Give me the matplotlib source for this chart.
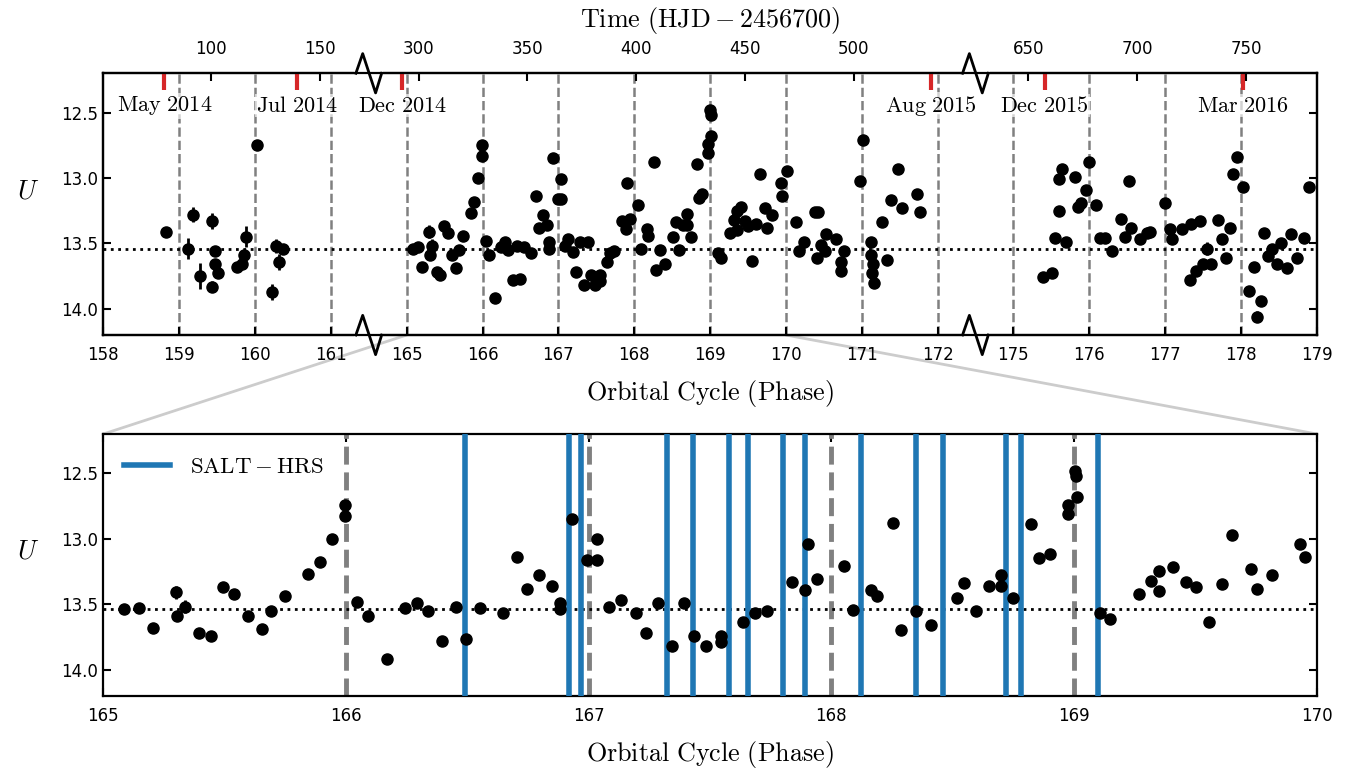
import numpy as np
import matplotlib
matplotlib.use("Agg")
import matplotlib.pyplot as plt
from matplotlib.patches import ConnectionPatch

plt.rcParams["mathtext.fontset"] = "cm"
plt.rcParams["font.family"] = "DejaVu Sans"
plt.rcParams["axes.unicode_minus"] = True

# ---------------------------------------------------------------- data
# Season 1 (May - Jul 2014)
phase_s1 = [158.823, 159.122, 159.179, 159.276, 159.434, 159.434, 159.474, 159.474,
            159.513, 159.768, 159.826, 159.856, 159.878, 160.032, 160.230, 160.278,
            160.318, 160.375]
u_s1 = [13.41, 13.54, 13.28, 13.75, 13.33, 13.83, 13.56, 13.66,
        13.73, 13.68, 13.66, 13.59, 13.45, 12.75, 13.87, 13.52,
        13.64, 13.54]
err_s1 = [0.015, 0.08, 0.06, 0.10, 0.06, 0.04, 0.03, 0.03,
          0.03, 0.03, 0.03, 0.03, 0.08, 0.015, 0.06, 0.05,
          0.06, 0.03]

# Season 2 (Dec 2014 - Aug 2015)
phase_s2 = [165.087, 165.146, 165.203, 165.300, 165.302, 165.338, 165.396, 165.444,
            165.492, 165.540, 165.597, 165.653, 165.690, 165.747, 165.843, 165.891,
            165.942, 165.997, 165.997, 166.045, 166.092, 166.169, 166.245, 166.293,
            166.338, 166.397, 166.455, 166.495, 166.551, 166.645, 166.704, 166.745,
            166.796, 166.847, 166.883, 166.883, 166.932, 166.991, 167.035, 167.035,
            167.083, 167.133, 167.193, 167.235, 167.285, 167.343, 167.391, 167.435,
            167.485, 167.544, 167.544, 167.635, 167.687, 167.736, 167.837, 167.892,
            167.903, 167.940, 168.053, 168.089, 168.164, 168.188, 168.255, 168.288,
            168.347, 168.410, 168.517, 168.547, 168.596, 168.650, 168.698, 168.698,
            168.747, 168.824, 168.854, 168.900, 168.976, 168.976, 169.003, 169.007,
            169.012, 169.106, 169.150, 169.266, 169.319, 169.351, 169.351, 169.407,
            169.462, 169.502, 169.555, 169.608, 169.653, 169.729, 169.753, 169.816,
            169.930, 169.953, 170.016, 170.134, 170.174, 170.235, 170.389, 170.411,
            170.420, 170.464, 170.521, 170.534, 170.666, 170.732, 170.732, 170.771,
            170.983, 171.018, 171.124, 171.128, 171.132, 171.150, 171.158, 171.269,
            171.335, 171.388, 171.484, 171.537, 171.731, 171.765]
u_s2 = [13.54, 13.53, 13.68, 13.41, 13.59, 13.52, 13.72, 13.74,
        13.37, 13.42, 13.59, 13.69, 13.55, 13.44, 13.27, 13.18,
        13.00, 12.745, 12.83, 13.48, 13.59, 13.92, 13.53, 13.49,
        13.55, 13.78, 13.52, 13.77, 13.53, 13.57, 13.14, 13.385,
        13.28, 13.36, 13.49, 13.54, 12.85, 13.16, 13.005, 13.16,
        13.52, 13.47, 13.565, 13.72, 13.49, 13.82, 13.49, 13.745,
        13.82, 13.74, 13.79, 13.64, 13.57, 13.556, 13.33, 13.39,
        13.04, 13.31, 13.21, 13.545, 13.39, 13.44, 12.88, 13.70,
        13.55, 13.66, 13.45, 13.34, 13.55, 13.36, 13.276, 13.36,
        13.454, 12.89, 13.15, 13.12, 12.74, 12.81, 12.48, 12.52,
        12.68, 13.57, 13.61, 13.42, 13.32, 13.25, 13.40, 13.22,
        13.33, 13.37, 13.635, 13.35, 12.97, 13.23, 13.385, 13.28,
        13.04, 13.14, 12.945, 13.34, 13.56, 13.49, 13.26, 13.61,
        13.26, 13.51, 13.56, 13.43, 13.47, 13.645, 13.71, 13.56,
        13.02, 12.71, 13.49, 13.59, 13.73, 13.66, 13.80, 13.34,
        13.63, 13.17, 12.93, 13.23, 13.12, 13.26]
err_s2 = [0.015] * len(phase_s2)
for i, e in ((3, 0.05), (5, 0.05), (40, 0.04), (46, 0.04), (78, 0.03)):
    err_s2[i] = e

# Season 3 (Dec 2015 - Mar 2016)
phase_s3 = [175.396, 175.515, 175.550, 175.603, 175.607, 175.646, 175.699, 175.814,
            175.858, 175.894, 175.955, 176.003, 176.091, 176.144, 176.210, 176.298,
            176.417, 176.473, 176.526, 176.552, 176.671, 176.759, 176.803, 177.001,
            177.067, 177.098, 177.222, 177.331, 177.345, 177.411, 177.464, 177.499,
            177.552, 177.609, 177.697, 177.750, 177.807, 177.851, 177.896, 177.948,
            178.022, 178.102, 178.167, 178.212, 178.265, 178.303, 178.356, 178.405,
            178.471, 178.523, 178.611, 178.665, 178.735, 178.831, 178.897]
u_s3 = [13.76, 13.73, 13.46, 13.255, 13.01, 12.93, 13.49, 12.996,
        13.225, 13.19, 13.09, 12.88, 13.205, 13.46, 13.46, 13.56,
        13.31, 13.45, 13.02, 13.38, 13.47, 13.42, 13.41, 13.195,
        13.39, 13.47, 13.39, 13.78, 13.35, 13.71, 13.33, 13.66,
        13.54, 13.66, 13.32, 13.47, 13.61, 13.38, 12.97, 12.84,
        13.07, 13.86, 13.68, 14.06, 13.94, 13.42, 13.60, 13.54,
        13.66, 13.50, 13.69, 13.43, 13.61, 13.46, 13.07]
err_s3 = [0.015] * len(phase_s3)
err_s3[32] = 0.05
err_s3[43] = 0.04

# SALT-HRS spectroscopic epochs (orbital phase)
salt_hrs_phase = [166.489, 166.918, 166.970, 167.323, 167.430, 167.578, 167.658,
                  167.801, 167.893, 168.122, 168.350, 168.460, 168.721, 168.782,
                  169.100]

# calendar markers (HJD - 2456700)
month_labels = ["May 2014", "Jul 2014", "Dec 2014", "Aug 2015", "Dec 2015", "Mar 2016"]
month_hjd = [78.5, 139.5, 292.5, 535.5, 657.5, 748.5]

# top-axis time ticks (HJD - 2456700)
hjd_ticks = [100, 150, 300, 350, 400, 450, 500, 650, 700, 750]

U_MEAN = 13.54
PERIOD = 34.86          # days
EPOCH = -5457.4         # HJD - 2456700 of cycle zero

# broken phase axis: (first phase, last phase, cycles removed before segment)
SEGMENTS = [(158.0, 161.5, 0), (164.5, 172.5, 3), (174.5, 179.0, 5)]


def to_axis(phase):
    phase = np.atleast_1d(np.asarray(phase, float))
    out = np.full(phase.shape, np.nan)
    for lo, hi, shift in SEGMENTS:
        m = (phase >= lo) & (phase <= hi)
        out[m] = phase[m] - shift
    return out


def hjd_to_phase(hjd):
    return (np.asarray(hjd, float) - EPOCH) / PERIOD


def rm(s):
    """Roman Computer Modern text via mathtext."""
    return r"$\mathrm{" + s.replace(" ", r"\ ") + "}$"


# ---------------------------------------------------------------- figure
fig = plt.figure(figsize=(13.51, 7.68), dpi=100)
ax1 = fig.add_axes([0.0765, 0.5638, 0.8981, 0.3408])
ax2 = fig.add_axes([0.0765, 0.0941, 0.8981, 0.3408])

GREY = "#808080"
MS = 8
LABEL_FS = 18.8
seasons = [(phase_s1, u_s1, err_s1), (phase_s2, u_s2, err_s2), (phase_s3, u_s3, err_s3)]

xlo = to_axis(SEGMENTS[0][0])[0]
xhi = to_axis(SEGMENTS[-1][1])[0]

# ---- upper panel: full light curve on broken axis
for lo, hi, shift in SEGMENTS:
    for c in range(int(np.ceil(lo)), int(np.floor(hi)) + 1):
        xc = c - shift
        if xlo < xc < xhi:
            ax1.axvline(xc, color=GREY, ls="--", lw=1.8, zorder=1)

ax1.axhline(U_MEAN, color="k", ls=":", lw=2, zorder=2)
for ph, u, e in seasons:
    ax1.errorbar(to_axis(ph), u, yerr=e, fmt="o", color="k", ms=MS,
                 elinewidth=2, capsize=0, zorder=5)

ticks_ph = []
for lo, hi, shift in SEGMENTS:
    ticks_ph += list(range(int(np.ceil(lo)), int(np.floor(hi)) + 1))
ax1.set_xticks(to_axis(ticks_ph))
ax1.set_xticklabels([str(t) for t in ticks_ph])
ax1.set_xlim(xlo, xhi)
ax1.set_ylim(14.2, 12.2)
ax1.set_yticks([12.5, 13.0, 13.5, 14.0])
ax1.set_xlabel(rm("Orbital Cycle (Phase)"), fontsize=LABEL_FS, labelpad=10)
ax1.set_ylabel(r"$U$", fontsize=19, rotation=0)
ax1.yaxis.set_label_coords(-0.062, 0.5)

# month markers along the upper spine
xt = ax1.get_xaxis_transform()
mx = to_axis(hjd_to_phase(month_hjd))
ax1.vlines(mx, 0.935, 1.0, transform=xt, color="#d62728", lw=3, zorder=6, clip_on=False)
for x, lab in zip(mx, month_labels):
    ax1.text(x, 0.876, rm(lab), transform=xt, ha="center", va="center",
             fontsize=16, zorder=4,
             bbox=dict(facecolor="white", edgecolor="none", alpha=0.65, pad=1))

# time axis on top
axt = ax1.twiny()
axt.set_xlim(ax1.get_xlim())
axt.set_xticks(to_axis(hjd_to_phase(hjd_ticks)))
axt.set_xticklabels([str(h) for h in hjd_ticks])
axt.set_xlabel(rm("Time (HJD-2456700)"), fontsize=LABEL_FS, labelpad=9)

# break marks on the phase axis
for (lo, hi, shift), (lo2, hi2, shift2) in zip(SEGMENTS[:-1], SEGMENTS[1:]):
    xb = hi - shift
    w = 0.17
    for yb in (0.0, 1.0):
        ax1.plot([xb - w - 0.02, xb + w + 0.02], [yb, yb], transform=xt, color="white",
                 lw=4, clip_on=False, zorder=10, solid_capstyle="butt")
        ax1.plot([xb - w, xb - w + 0.09, xb + w - 0.08, xb + w],
                 [yb, yb + 0.075, yb - 0.075, yb], transform=xt, color="k",
                 lw=2, clip_on=False, zorder=11)

# ---- lower panel: zoom on the 2014/15 season
z_lo, z_hi = 165, 170
for c in range(z_lo + 1, z_hi):
    ax2.axvline(c, color=GREY, ls="--", lw=3.5, zorder=2)
for i, p in enumerate(salt_hrs_phase):
    ax2.axvline(p, color="#1f77b4", lw=4, zorder=3,
                label=r"$\mathrm{SALT-HRS}$" if i == 0 else None)
ax2.axhline(U_MEAN, color="k", ls=":", lw=2, zorder=2)
ph2 = np.asarray(phase_s2)
sel = (ph2 >= z_lo) & (ph2 <= z_hi)
ax2.errorbar(ph2[sel], np.asarray(u_s2)[sel], yerr=np.asarray(err_s2)[sel], fmt="o",
             color="k", ms=MS, elinewidth=2, capsize=0, zorder=5)
ax2.set_xlim(z_lo, z_hi)
ax2.set_ylim(14.2, 12.2)
ax2.set_xticks(range(z_lo, z_hi + 1))
ax2.set_yticks([12.5, 13.0, 13.5, 14.0])
ax2.set_xlabel(rm("Orbital Cycle (Phase)"), fontsize=LABEL_FS, labelpad=10)
ax2.set_ylabel(r"$U$", fontsize=19, rotation=0)
ax2.yaxis.set_label_coords(-0.062, 0.5)
leg = ax2.legend(loc="upper left", frameon=False, fontsize=16.5, handlelength=2.0,
                 handletextpad=0.9, borderaxespad=0.5)

# tick styling
for a in (ax1, ax2, axt):
    a.tick_params(direction="in", length=6, width=1.5, labelsize=12)
    for s in a.spines.values():
        s.set_linewidth(1.6)
ax1.tick_params(top=False, right=True)
ax1.tick_params(axis="x", pad=8)
ax2.tick_params(top=True, right=True)
ax2.tick_params(axis="x", pad=8)
axt.tick_params(bottom=False, pad=11)

# zoom connectors
for xa, xb_ in ((z_lo, 0.0), (z_hi, 1.0)):
    con = ConnectionPatch(xyA=(to_axis(xa)[0], 0.0), coordsA=ax1.get_xaxis_transform(),
                          xyB=(xb_, 1.0), coordsB=ax2.transAxes,
                          color="#cccccc", lw=2, zorder=0)
    fig.add_artist(con)

fig.savefig("out.png", dpi=100)
